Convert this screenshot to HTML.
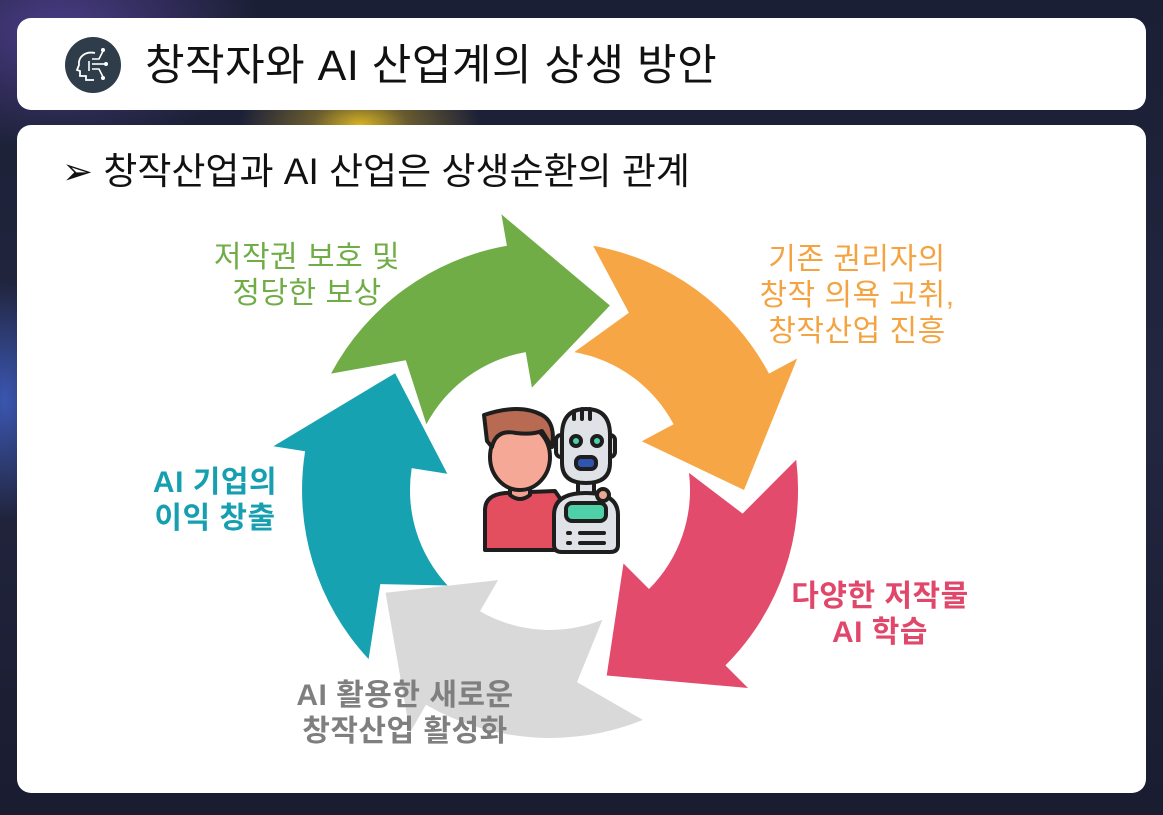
<!DOCTYPE html>
<html><head><meta charset="utf-8">
<style>
html,body{margin:0;padding:0;}
body{width:1163px;height:815px;position:relative;overflow:hidden;
background:radial-gradient(ellipse 120px 60px at 360px 125px,#d9b323 0%,rgba(217,179,35,0.4) 40%,rgba(0,0,0,0) 100%),
radial-gradient(ellipse 60px 120px at 5px 400px,#3a56b0 0%,rgba(0,0,0,0) 100%),
radial-gradient(ellipse 200px 120px at 60px 30px,#4a3c86 0%,rgba(0,0,0,0) 100%),
linear-gradient(180deg,#1b1f35,#22263f 50%,#1a1c30);
font-family:"Liberation Sans","Noto Sans CJK KR",sans-serif;}
.box{position:absolute;background:#fff;border-radius:14px;}
.t{position:absolute;text-align:center;font-size:30px;line-height:36px;white-space:nowrap;letter-spacing:0.5px;}
</style></head><body>
<div class="box" style="left:17px;top:18px;width:1129px;height:92px;"></div>
<div class="box" style="left:17px;top:125px;width:1129px;height:668px;"></div>
<svg style="position:absolute;left:65px;top:37px" width="56" height="56" viewBox="0 0 56 56">
<circle cx="28" cy="28" r="28" fill="#2f3c4a"/>
<path d="M30 16 C20 14 13 20 14 28 L12 33 L15 34 L15 39 L21 39 L21 43 L29 43" fill="none" stroke="#fff" stroke-width="1.8"/>
<g stroke="#fff" stroke-width="1.6" fill="none"><path d="M27 22 H34 L38 14"/><path d="M27 27 H40"/><path d="M27 32 H34 L38 40"/><path d="M24 24 V34"/></g>
<g fill="#fff"><circle cx="38" cy="13" r="2"/><circle cx="41" cy="27" r="2"/><circle cx="38" cy="41" r="2"/></g>
</svg>
<div style="position:absolute;left:145px;top:38px;font-size:43px;line-height:56px;color:#111;letter-spacing:0.5px;">창작자와 AI 산업계의 상생 방안</div>
<div style="position:absolute;left:62px;top:148px;font-size:37px;line-height:48px;color:#111;">➢ 창작산업과 AI 산업은 상생순환의 관계</div>

<svg id="cyc" style="position:absolute;left:0;top:0" width="1163" height="815"></svg>

<svg style="position:absolute;left:470px;top:395px" width="160" height="170" viewBox="0 0 160 170">
<g stroke="#1e1e1e" stroke-width="4" stroke-linejoin="round">
<path d="M15 155 V115 Q15 100 35 98 L85 96 L96 112 L92 155 Z" fill="#e34f5e"/>
<path d="M40 88 L40 100 Q50 108 60 100 L60 88 Z" fill="#f2a08f"/>
<ellipse cx="50" cy="62" rx="30" ry="33" fill="#f5a895"/>
<path d="M14 20 L17 46 L22 52 Q26 34 46 38 Q62 40 72 36 L82 52 Q86 28 72 20 Q50 8 14 20 Z" fill="#b86a52"/>
<rect x="86" y="40" width="10" height="22" rx="5" fill="#dfe3e8"/>
<rect x="135" y="40" width="10" height="22" rx="5" fill="#dfe3e8"/>
<rect x="108" y="86" width="16" height="14" fill="#dfe3e8"/>
<path d="M92 40 Q92 14 116 14 Q140 14 140 40 V68 Q140 88 116 88 Q92 88 92 68 Z" fill="#dfe3e8"/>
<path d="M84 120 Q84 98 116 98 Q148 98 148 120 V150 Q148 157 140 157 H92 Q84 157 84 150 Z" fill="#dfe3e8"/>
<rect x="96" y="108" width="40" height="18" rx="6" fill="#4ed0a8"/>
<rect x="106" y="62" width="20" height="12" rx="5" fill="#2f55b0"/>
<circle cx="106" cy="46" r="5" fill="#4ed0a8"/><circle cx="127" cy="46" r="5" fill="#4ed0a8"/>
<circle cx="133" cy="100" r="6" fill="#e8a893"/>
</g>
<g stroke="#1e1e1e" stroke-width="4" stroke-linecap="round"><line x1="98" y1="138" x2="100" y2="138"/><line x1="98" y1="148" x2="100" y2="148"/><line x1="110" y1="138" x2="134" y2="138"/><line x1="110" y1="148" x2="134" y2="148"/>
<line x1="112" y1="14" x2="112" y2="24"/><line x1="120" y1="14" x2="120" y2="24"/><line x1="104" y1="16" x2="104" y2="24"/></g>
</svg>

<div class="t" style="left:197px;top:240px;width:220px;color:#70ad47;">저작권 보호 및<br>정당한 보상</div>
<div class="t" style="left:727px;top:242px;width:260px;color:#f4a340;">기존 권리자의<br>창작 의욕 고취,<br>창작산업 진흥</div>
<div class="t" style="left:760px;top:579px;width:240px;color:#e0476a;font-weight:bold;">다양한 저작물<br>AI 학습</div>
<div class="t" style="left:255px;top:678px;width:300px;color:#7f7f7f;font-weight:bold;">AI 활용한 새로운<br>창작산업 활성화</div>
<div class="t" style="left:120px;top:465px;width:190px;color:#159fb0;font-weight:bold;">AI 기업의<br>이익 창출</div>

<script>
(function(){
var cx=550,cy=490,ri=140,ro=248,fi=104,fo=280,rm=194;
function p(a,r){var t=a*Math.PI/180;return (cx+r*Math.cos(t)).toFixed(1)+' '+(cy+r*Math.sin(t)).toFixed(1);}
var arrows=[[288,'#70ad47'],[360,'#f7a646'],[73,'#e34b6c'],[148,'#d9d9d9'],[217,'#17a2b2']];
var s='';
arrows.forEach(function(a){var T=a[0],tl=T-80,hb=T-28,n=T-66;
var d='M'+p(tl,ro)+' A'+ro+' '+ro+' 0 0 1 '+p(hb,ro)+' L'+p(hb,fo)+' L'+p(T,rm)+' L'+p(hb,fi)+' L'+p(hb,ri)+' A'+ri+' '+ri+' 0 0 0 '+p(tl,ri)+' L'+p(n,rm)+' Z';
s+='<path d="'+d+'" fill="'+a[1]+'"/>';});
document.getElementById('cyc').innerHTML=s;
})();
</script>
</body></html>
